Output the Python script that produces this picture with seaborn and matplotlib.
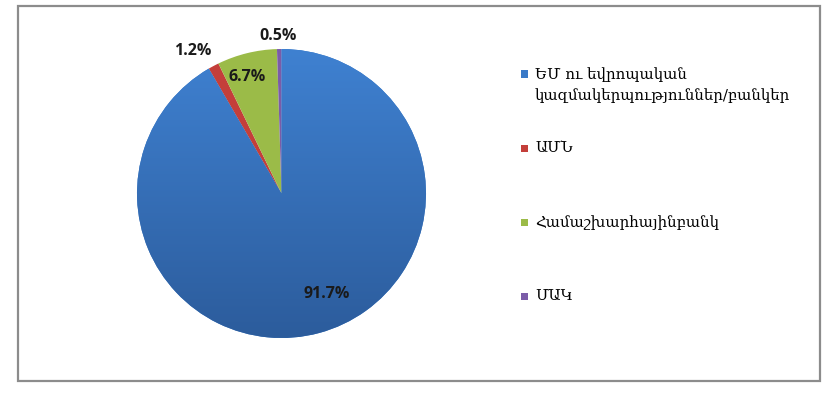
import matplotlib
matplotlib.use('Agg')
import matplotlib.pyplot as plt
import numpy as np
import seaborn as sns
from matplotlib.colors import LinearSegmentedColormap
from matplotlib.patches import Rectangle

# data
sources = ['ԵՄ ու եվրոպական\nկազմակերպություններ/բանկեր',
           'ԱՄՆ',
           'Համաշխարհայինբանկ',
           'ՄԱԿ']
shares = [91.7, 1.2, 6.7, 0.5]

# label placement (radius in pie units, angle nudge in degrees)
label_dist = [0.76, 1.16, 0.84, 1.09]
label_turn = [9.0, 4.0, 2.7, 0.4]

sns.set_theme(style='white')
palette = sns.color_palette(['#3A7AC8', '#C43F3A', '#9BBB48', '#7B5CA8'])

W, H = 836, 398
fig = plt.figure(figsize=(W / 100, H / 100), dpi=100)
fig.patch.set_facecolor('white')

# outer frame
fig.patches.append(Rectangle((18 / W, (H - 381) / H), (820 - 18) / W, (381 - 6) / H,
                             transform=fig.transFigure, fill=False,
                             edgecolor='#8c8c8c', linewidth=1.6))

cx, cy, r = 281.5, 193.5, 144.5
ax = fig.add_axes([(cx - r) / W, (H - cy - r) / H, 2 * r / W, 2 * r / H])
wedges, _ = ax.pie(shares, colors=palette, startangle=90, counterclock=False,
                   radius=1, wedgeprops=dict(linewidth=0))
ax.set_xlim(-1, 1)
ax.set_ylim(-1, 1)
ax.set_aspect('equal')
ax.axis('off')

# vertical shading on the main slice
grad = np.linspace(0, 1, 256).reshape(-1, 1)
cmap = LinearSegmentedColormap.from_list('blue', ['#3F81D1', '#2C5C9C'])
im = ax.imshow(grad, extent=[-1, 1, -1, 1], cmap=cmap, aspect='auto', zorder=1.5)
im.set_clip_path(wedges[0])

for w, v, d, t in zip(wedges, shares, label_dist, label_turn):
    ang = np.deg2rad((w.theta1 + w.theta2) / 2 + t)
    ax.text(d * np.cos(ang), d * np.sin(ang), f'{v:.1f}%', ha='center', va='center',
            fontsize=11.5, fontweight='bold', family=['Open Sans', 'DejaVu Sans'],
            color='#1a1a1a', zorder=5)

# legend
leg_y = [74, 148, 222, 296]
for name, col, y in zip(sources, palette, leg_y):
    fig.patches.append(Rectangle((520.5 / W, (H - y - 3.5) / H), 7 / W, 7 / H,
                                 transform=fig.transFigure, facecolor=col,
                                 edgecolor='none'))
    fig.text(535 / W, (H - y + 7) / H, name, ha='left', va='top', fontsize=10.8,
             family=['DejaVu Serif', 'DejaVu Sans'], color='black', linespacing=1.55)

fig.savefig('out.png', dpi=100, facecolor='white')
